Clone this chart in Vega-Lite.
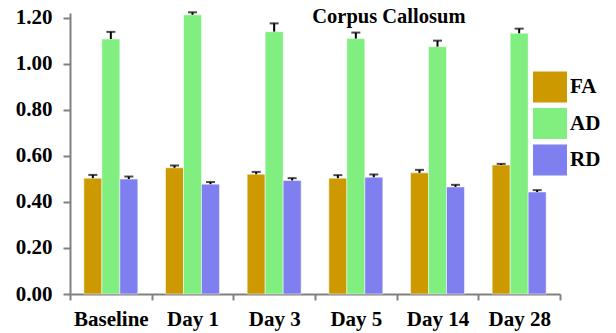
{
  "$schema": "https://vega.github.io/schema/vega-lite/v6.json",
  "width": 490,
  "height": 281,
  "autosize": {"type": "none"},
  "padding": {"left": 70, "top": 13, "right": 56, "bottom": 39},
  "background": "white",
  "config": {"font": "Liberation Serif", "view": {"stroke": null}},
  "title": {"text": "Corpus Callosum", "anchor": "start", "dx": 297, "offset": -21, "fontSize": 20.5, "fontWeight": "bold", "color": "black", "font": "Liberation Serif"},
  "data": {"values": [
    {"day": "Baseline", "metric": "FA", "value": 0.503, "hi": 0.517},
    {"day": "Baseline", "metric": "AD", "value": 1.107, "hi": 1.138},
    {"day": "Baseline", "metric": "RD", "value": 0.499, "hi": 0.510},
    {"day": "Day 1", "metric": "FA", "value": 0.548, "hi": 0.558},
    {"day": "Day 1", "metric": "AD", "value": 1.212, "hi": 1.223},
    {"day": "Day 1", "metric": "RD", "value": 0.477, "hi": 0.486},
    {"day": "Day 3", "metric": "FA", "value": 0.520, "hi": 0.530},
    {"day": "Day 3", "metric": "AD", "value": 1.139, "hi": 1.175},
    {"day": "Day 3", "metric": "RD", "value": 0.493, "hi": 0.503},
    {"day": "Day 5", "metric": "FA", "value": 0.503, "hi": 0.516},
    {"day": "Day 5", "metric": "AD", "value": 1.109, "hi": 1.135},
    {"day": "Day 5", "metric": "RD", "value": 0.507, "hi": 0.519},
    {"day": "Day 14", "metric": "FA", "value": 0.526, "hi": 0.539},
    {"day": "Day 14", "metric": "AD", "value": 1.074, "hi": 1.100},
    {"day": "Day 14", "metric": "RD", "value": 0.465, "hi": 0.474},
    {"day": "Day 28", "metric": "FA", "value": 0.560, "hi": 0.565},
    {"day": "Day 28", "metric": "AD", "value": 1.132, "hi": 1.152},
    {"day": "Day 28", "metric": "RD", "value": 0.443, "hi": 0.451}
  ]},
  "encoding": {
    "x": {
      "field": "day", "type": "nominal",
      "sort": ["Baseline", "Day 1", "Day 3", "Day 5", "Day 14", "Day 28"],
      "scale": {"paddingInner": 0, "paddingOuter": 0},
      "axis": {"title": null, "labelAngle": 0, "tickBand": "extent", "labelFontSize": 21, "labelFontWeight": "bold", "labelColor": "black", "labelFont": "Liberation Serif", "domainColor": "#808080", "domainWidth": 2, "tickColor": "#808080", "tickWidth": 2, "tickSize": 6, "labelPadding": 8}
    },
    "xOffset": {"field": "metric", "type": "nominal", "sort": ["FA", "AD", "RD"], "scale": {"paddingInner": 0, "paddingOuter": 0.77}}
  },
  "layer": [
    {
      "mark": {"type": "bar", "stroke": "white", "strokeWidth": 0.5},
      "encoding": {
        "y": {"field": "value", "type": "quantitative", "scale": {"domain": [0, 1.22], "nice": false},
          "axis": {"title": null, "values": [0, 0.2, 0.4, 0.6, 0.8, 1.0, 1.2], "format": ".2f", "grid": false, "labelFontSize": 21, "labelFontWeight": "bold", "labelColor": "black", "labelFont": "Liberation Serif", "domainColor": "#808080", "domainWidth": 2, "tickColor": "#808080", "tickWidth": 2, "tickSize": 7, "labelPadding": 11}},
        "color": {"field": "metric", "type": "nominal", "sort": ["FA", "AD", "RD"],
          "scale": {"domain": ["FA", "AD", "RD"], "range": ["#CC9900", "#80EF80", "#7F7FEF"]},
          "legend": {"title": null, "orient": "none", "legendX": 463, "legendY": 57, "padding": 0, "symbolType": "M-1,-0.91H1V0.91H-1Z", "symbolSize": 1156, "symbolStrokeWidth": 0, "symbolOpacity": 1, "rowPadding": 3.5, "labelOffset": 3, "labelFontSize": 21, "labelFontWeight": "bold", "labelColor": "black", "labelFont": "Liberation Serif"}}
      }
    },
    {
      "mark": {"type": "rule", "color": "black", "strokeWidth": 2},
      "encoding": {"y": {"field": "value", "type": "quantitative"}, "y2": {"field": "hi"}}
    },
    {
      "mark": {"type": "tick", "color": "black", "thickness": 2, "size": 9},
      "encoding": {"y": {"field": "hi", "type": "quantitative"}}
    }
  ]
}
